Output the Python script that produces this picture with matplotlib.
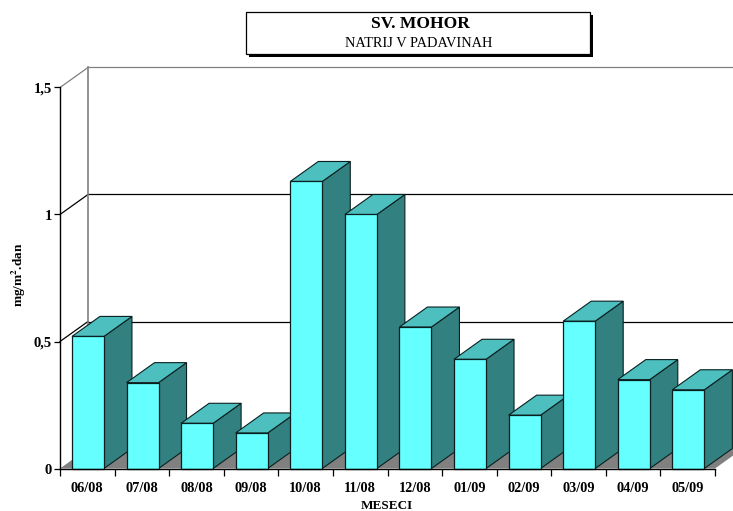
import numpy as np
import matplotlib
matplotlib.use('Agg')
import matplotlib.pyplot as plt
from matplotlib.patches import Polygon, Rectangle

# Sv. Mohor, sodium in precipitation
months = ['06/08', '07/08', '08/08', '09/08', '10/08', '11/08',
          '12/08', '01/09', '02/09', '03/09', '04/09', '05/09']
values = [0.52, 0.338, 0.178, 0.14, 1.13, 1.0,
          0.557, 0.43, 0.21, 0.58, 0.35, 0.31]
y_ticks = [0, 0.5, 1, 1.5]
y_tick_labels = ['0', '0,5', '1', '1,5']

W, H = 733, 511
plt.rcParams['font.family'] = ['Liberation Serif', 'DejaVu Serif']

fig = plt.figure(figsize=(W / 100, H / 100), dpi=100)
# axes box in pixels: left 60, right 715, floor at 468.5, 1.5 at 87.5
ax = fig.add_axes([60 / W, 1 - 468.5 / H, 655 / W, 381 / H])
ax.set_xlim(0, 12)
ax.set_ylim(0, 1.5)
ax.patch.set_visible(False)

# 3d depth in data units
dx = 28 / (655 / 12)
dy = 20 / (381 / 1.5)
x_end = 13.0  # runs off the figure on the right

# floor
ax.add_patch(Polygon([(0, 0), (12, 0), (12 + dx, dy), (dx, dy)],
                     closed=True, fc='#808080', ec='none', clip_on=False, zorder=1))

# walls and grid
for t in y_ticks[1:]:
    col = '#808080' if t == 1.5 else 'black'
    ax.plot([0, dx], [t, t + dy], color=col, lw=0.9, clip_on=False, zorder=1)
    ax.plot([dx, x_end], [t + dy, t + dy], color=col, lw=0.9, clip_on=False, zorder=1)
ax.plot([dx, dx], [dy, 1.5 + dy], color='#808080', lw=1.2, clip_on=False, zorder=1)

# bars
bar_w = 32 / (655 / 12)
for i, v in enumerate(values):
    x0 = i + 0.5 - bar_w / 2 + 0.012
    x1 = x0 + bar_w
    z = 3 + i
    ax.add_patch(Polygon([(x1, 0), (x1 + dx, dy), (x1 + dx, v + dy), (x1, v)],
                         closed=True, fc='#338080', ec='#0a2020', lw=0.8, clip_on=False, zorder=z))
    ax.add_patch(Polygon([(x0, v), (x1, v), (x1 + dx, v + dy), (x0 + dx, v + dy)],
                         closed=True, fc='#4DBFBF', ec='#0a2020', lw=0.8, clip_on=False, zorder=z))
    ax.add_patch(Rectangle((x0, 0), bar_w, v, fc='#66FFFF', ec='#0a2020', lw=0.9,
                           clip_on=False, zorder=z))

# axes and ticks
for side in ['top', 'right']:
    ax.spines[side].set_visible(False)
ax.spines['left'].set_linewidth(1.0)
ax.spines['bottom'].set_linewidth(1.0)
ax.spines['bottom'].set_zorder(20)
ax.set_yticks(y_ticks)
ax.set_yticklabels(y_tick_labels, fontsize=10.5, fontweight='bold')
ax.set_xticks(np.arange(0, 13))
ax.set_xticklabels([])
ax.set_xticks(np.arange(12) + 0.5, labels=months, minor=True, fontsize=10.3, fontweight='bold')
ax.tick_params(axis='x', which='major', length=5, width=0.9)
ax.tick_params(axis='x', which='minor', length=0, pad=10)
ax.tick_params(axis='y', length=4.5, width=0.9, pad=1.5)

fig.text(18.5 / W, 1 - 274.5 / H, 'mg/m$^{\\mathbf{2}}$.dan', rotation=90, fontsize=9.5,
         fontweight='bold', ha='center', va='center', math_fontfamily='stix')
fig.text(387 / W, 1 - 505.5 / H, 'MESECI', fontsize=9.5, fontweight='bold',
         ha='center', va='center')

# title box with shadow
fig.add_artist(Rectangle((249 / W, 1 - 57 / H), 344 / W, 42 / H, fc='black', ec='none',
                         transform=fig.transFigure))
fig.add_artist(Rectangle((246 / W, 1 - 54 / H), 344 / W, 42 / H, fc='white', ec='black',
                         lw=0.9, transform=fig.transFigure))
fig.text(420.5 / W, 1 - 24.5 / H, 'SV. MOHOR', fontsize=12.6, fontweight='bold',
         ha='center', va='center')
fig.text(419 / W, 1 - 43 / H, 'NATRIJ V PADAVINAH', fontsize=10.4,
         ha='center', va='center')

fig.savefig('out.png', dpi=100)
